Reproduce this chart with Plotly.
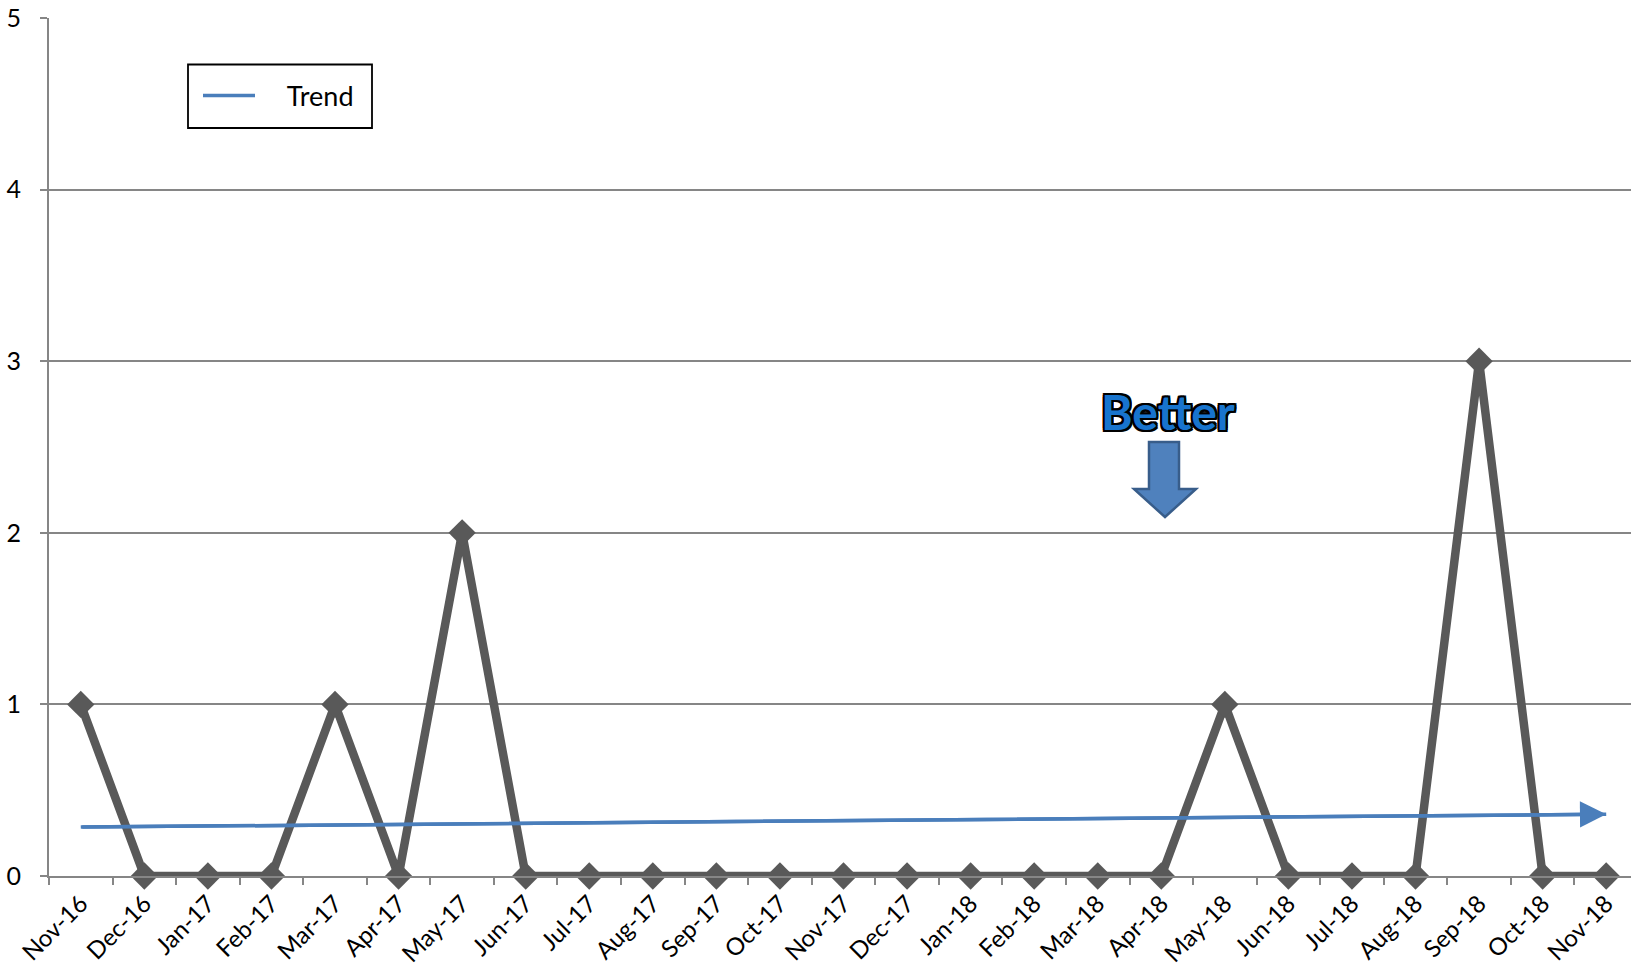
import plotly.graph_objects as go

months = ["Nov-16", "Dec-16", "Jan-17", "Feb-17", "Mar-17", "Apr-17", "May-17", "Jun-17",
          "Jul-17", "Aug-17", "Sep-17", "Oct-17", "Nov-17", "Dec-17", "Jan-18", "Feb-18",
          "Mar-18", "Apr-18", "May-18", "Jun-18", "Jul-18", "Aug-18", "Sep-18", "Oct-18", "Nov-18"]
counts = [1, 0, 0, 0, 1, 0, 2, 0, 0, 0, 0, 0, 0, 0, 0, 0, 0, 0, 1, 0, 0, 0, 3, 0, 0]
trend_x = ["Nov-16", "Nov-18"]
trend_y = [0.285, 0.36]
y_ticks = [0, 1, 2, 3, 4, 5]

FONT = "Lato, 'Open Sans', sans-serif"
GRID = "#868686"
BLUE = "#4A7EBB"

# plot area in pixels (for decoration placement)
L, R, T, B = 49, 1631, 18, 876
def px(x):
    return (x - L) / (R - L)
def py(y):
    return (B - y) / (B - T)

fig = go.Figure()
fig.add_trace(go.Scatter(
    x=months, y=counts, mode="lines+markers",
    line=dict(color="#595959", width=8.5),
    marker=dict(symbol="diamond", size=21, color="#595959"),
    showlegend=False, cliponaxis=False, hoverinfo="x+y"))
fig.add_trace(go.Scatter(
    x=trend_x, y=trend_y, mode="lines", name="\u00a0\u00a0\u00a0\u00a0Trend",
    line=dict(color=BLUE, width=3.5), showlegend=True))
# arrow head at the end of the trend line
fig.add_annotation(x=trend_x[-1], y=trend_y[-1], ax=trend_x[0], ay=trend_y[0],
                   xref="x", yref="y", axref="x", ayref="y", text="",
                   showarrow=True, arrowhead=2, arrowsize=1.5, arrowwidth=3.5,
                   arrowcolor=BLUE, standoff=0)

# "Better" block arrow
pts = [(1149, 442), (1179, 442), (1179, 489), (1196, 489), (1165, 517), (1134, 489), (1149, 489)]
path = "M " + " L ".join(f"{px(a):.5f},{py(b):.5f}" for a, b in pts) + " Z"
fig.add_shape(type="path", path=path, xref="paper", yref="paper",
              fillcolor="#4F81BD", line=dict(color="#385D8A", width=2.5))
fig.add_annotation(x=px(1168), y=py(411), xref="paper", yref="paper", text="<b>Better</b>",
                   showarrow=False, xanchor="center", yanchor="middle",
                   font=dict(family=FONT, size=48, color="#1874CD",
                             shadow="2px 2px 0 #000, -2px -2px 0 #000, 2px -2px 0 #000, -2px 2px 0 #000, 0 2px 0 #000, 0 -2px 0 #000, 2px 0 0 #000, -2px 0 0 #000"))

# legend frame
fig.add_shape(type="rect", xref="paper", yref="paper",
              x0=px(188), x1=px(372), y0=py(128), y1=py(64.5),
              line=dict(color="black", width=1.8), fillcolor="rgba(0,0,0,0)")

fig.update_layout(
    width=1631, height=971,
    margin=dict(l=L, r=0, t=T, b=971 - B),
    paper_bgcolor="white", plot_bgcolor="white",
    font=dict(family=FONT, size=22, color="black"),
    legend=dict(x=px(198), y=py(96), xanchor="left", yanchor="middle",
                borderwidth=0, bgcolor="rgba(0,0,0,0)",
                font=dict(size=27), itemwidth=52),
    xaxis=dict(type="category", range=[-0.5, 24.39], showgrid=False, automargin=False,
               showline=True, linecolor=GRID, linewidth=2,
               ticks="outside", tickson="boundaries", ticklen=7, tickcolor=GRID, tickwidth=1.5,
               tickangle=-45, tickfont=dict(size=24), ticklabelstandoff=2),
    yaxis=dict(range=[0, 5], tickvals=y_ticks, showgrid=True, gridcolor=GRID, gridwidth=1.5,
               showline=True, linecolor=GRID, linewidth=2, zeroline=False, automargin=False,
               ticks="outside", ticklen=7, tickcolor=GRID, tickwidth=1.5,
               tickfont=dict(size=25), ticklabelstandoff=14),
)
fig.write_html("out.html", config={"displayModeBar": False},
               post_script="document.body.style.margin='0';document.body.style.overflow='hidden';")
